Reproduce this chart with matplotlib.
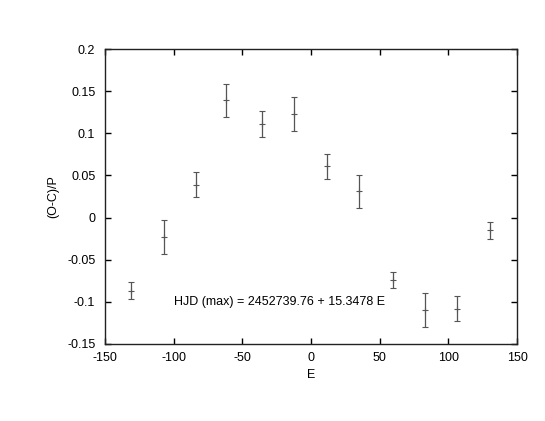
import matplotlib
matplotlib.use("Agg")
from matplotlib import pyplot as plt
import numpy as np

# cycle number and (O-C)/P with errors
E = [-131, -107, -83.5, -62, -35.5, -12.5, 12, 35, 60, 83, 106.5, 130.5]
oc = [-0.087, -0.023, 0.039, 0.139, 0.111, 0.123, 0.061, 0.031, -0.074, -0.110, -0.108, -0.015]
err = [0.010, 0.020, 0.015, 0.020, 0.015, 0.020, 0.015, 0.020, 0.010, 0.020, 0.015, 0.010]

xticks = [-150, -100, -50, 0, 50, 100, 150]
yticks = [-0.15, -0.1, -0.05, 0, 0.05, 0.1, 0.15, 0.2]
ylabels = ["-0.15", "-0.1", "-0.05", "0", "0.05", "0.1", "0.15", "0.2"]

plt.rcParams['font.family'] = ['Liberation Sans', 'DejaVu Sans']
plt.rcParams['font.size'] = 9

fig = plt.figure(figsize=(5.45, 4.21), dpi=100)
ax = fig.add_axes([105/545, 1 - 344/421, 412/545, 295/421])

ax.errorbar(E, oc, yerr=err, fmt='+', color='#555555', ecolor='#555555',
            elinewidth=0.9, capsize=2, capthick=0.9, markersize=5, markeredgewidth=0.8)

ax.text(-100, -0.1, "HJD (max) = 2452739.76 + 15.3478 E", ha='left', va='center')

ax.set_xlim(-150, 150)
ax.set_ylim(-0.15, 0.2)
ax.set_xticks(xticks)
ax.set_xticklabels([str(t) for t in xticks])
ax.set_yticks(yticks)
ax.set_yticklabels(ylabels)
ax.tick_params(direction='in', length=4, width=1, top=True, right=True, pad=7)
ax.tick_params(axis='x', pad=6)
for s in ax.spines.values():
    s.set_linewidth(1)
    s.set_color('#222222')

ax.set_xlabel("E")
ax.set_ylabel("(O-C)/P")
ax.xaxis.set_label_coords(0.5, (344 - 369) / 295)
ax.yaxis.set_label_coords((59 - 105) / 412, 0.5)

fig.savefig("out.png", dpi=100)
